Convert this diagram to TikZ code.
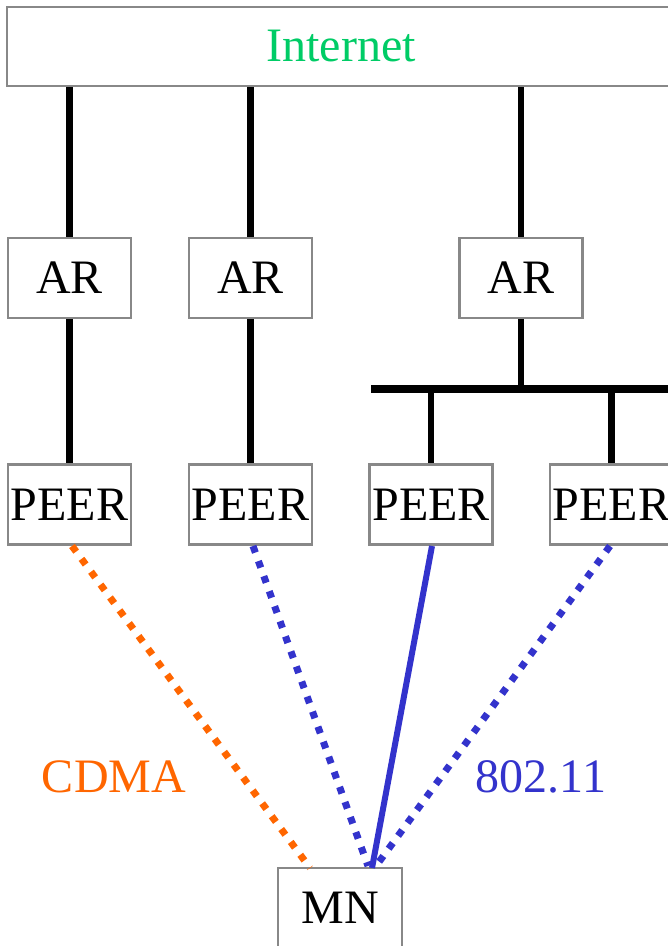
\documentclass[tikz,border=0pt]{standalone}
\usepackage{fontspec}
\setmainfont{Liberation Serif}
\definecolor{boxgray}{HTML}{888888}
\definecolor{inetgreen}{HTML}{00CC66}
\definecolor{cdmaorange}{HTML}{FF6600}
\definecolor{wifiblue}{HTML}{3333CC}
\begin{document}
\begin{tikzpicture}[x=1pt,y=-1pt,
  box/.style={draw=boxgray,line width=2.5pt,fill=white,inner sep=0pt,
    minimum width=123pt,minimum height=80pt,
    font=\fontsize{48}{58}\selectfont},
  wire/.style={line width=6.5pt,black},
  bus/.style={line width=8pt,black},
  dotlink/.style={line width=7pt,dash pattern=on 7pt off 9pt},
  label/.style={font=\fontsize{48}{58}\selectfont,inner sep=0pt}]
\useasboundingbox (0,0) rectangle (668,946);
\fill[white] (0,0) rectangle (668,946);

% Internet
\node[box,minimum width=668pt,minimum height=79pt,text=inetgreen] (inet) at (341,46.5) {Internet};

% access routers
\node[box] (ar1) at (69.5,278) {AR};
\node[box] (ar2) at (250.5,278) {AR};
\node[box] (ar3) at (521,278) {AR};

% peers
\node[box] (p1) at (69.5,504.5) {PEER};
\node[box] (p2) at (250.5,504.5) {PEER};
\node[box] (p3) at (431,504.5) {PEER};
\node[box] (p4) at (611.5,504.5) {PEER};

% mobile node
\node[box,minimum width=124pt] (mn) at (340,908) {MN};

% wired links
\draw[wire] (inet.south -| ar1) -- (ar1.north);
\draw[wire] (inet.south -| ar2) -- (ar2.north);
\draw[wire] (inet.south -| ar3) -- (ar3.north);
\draw[wire] (ar1.south) -- (p1.north);
\draw[wire] (ar2.south) -- (p2.north);
\coordinate (busL) at (371,389);
\coordinate (busR) at (680,389);
\draw[bus] (busL) -- (busR);
\draw[wire] (ar3.south) -- (ar3.south |- busL);
\draw[wire] (p3.north |- busL) -- (p3.north);
\draw[wire] (p4.north |- busL) -- (p4.north);

% wireless links
\coordinate (s1) at (72,546);
\coordinate (s2) at (253,546);
\coordinate (s3) at (432,546);
\coordinate (s4) at (610,546);
\coordinate (e1) at (310,868);
\coordinate (e2) at (368,866);
\coordinate (e3) at (372,868);
\coordinate (e4) at (376,866);
\draw[dotlink,cdmaorange] (s1) -- (e1);
\draw[dotlink,wifiblue] (s2) -- (e2);
\draw[line width=6pt,wifiblue] (s3) -- (e3);
\draw[dotlink,wifiblue] (s4) -- (e4);

% labels
\node[label,text=cdmaorange] (cdma) at (114,777) {CDMA};
\node[label,text=wifiblue] (wifi) at (541,777) {802.11};
\end{tikzpicture}
\end{document}
